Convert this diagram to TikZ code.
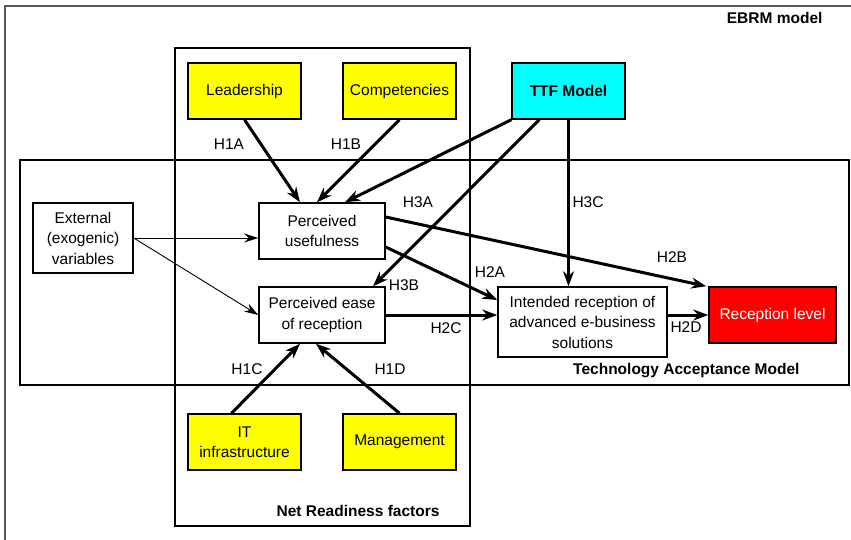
\documentclass[tikz,border=0pt]{standalone}
\usepackage{fontspec}
\setmainfont{Liberation Sans}
\usetikzlibrary{arrows.meta,calc}
\definecolor{ttfcyan}{RGB}{0,255,255}
\definecolor{boxyellow}{RGB}{255,255,0}
\definecolor{boxred}{RGB}{255,0,0}
\begin{document}
\begin{tikzpicture}[x=1pt,y=-1pt,
  txt/.style={font=\fontsize{15.5}{20.5}\selectfont},
  bld/.style={font=\fontsize{15.5}{20.5}\selectfont\bfseries},
  box/.style={draw,line width=1.5pt,align=center,inner sep=0pt,txt},
  yel/.style={box,fill=boxyellow},
  frame/.style={draw,line width=1.5pt},
  bigarrow/.style={line width=3pt,-{Stealth[length=15pt,width=11pt]}},
  thinarrow/.style={line width=0.9pt,-{Stealth[length=14pt,width=9pt]}},
  lbl/.style={txt,inner sep=0pt}
]
\useasboundingbox (0,0) rectangle (851,539);
% outer frame
\draw[line width=2pt,gray!70!black] (5,540) -- (5,6) -- (852,6);
\node[bld,anchor=east] (ebrm) at (826,18) {EBRM model};
% group frames
\draw[frame] (175,48) rectangle (470,526);
\draw[frame] (20,160) rectangle (849,385);
\node[bld,anchor=east] (nrf) at (443,511) {Net Readiness factors};
\node[bld,anchor=east] (tam) at (803,371) {Technology Acceptance Model};
% nodes
\node[yel,minimum width=113pt,minimum height=56pt] (lead) at (244.5,91) {Leadership};
\node[yel,minimum width=113pt,minimum height=56pt] (comp) at (399.5,91) {Competencies};
\node[box,fill=ttfcyan,minimum width=113pt,minimum height=56pt,font=\fontsize{15.5}{20.5}\selectfont\bfseries] (ttf) at (568.5,91) {TTF Model};
\node[box,minimum width=100pt,minimum height=70pt] (ext) at (83,238) {External\\(exogenic)\\variables};
\node[box,minimum width=126pt,minimum height=56pt] (pu) at (322,231) {Perceived\\usefulness};
\node[box,minimum width=126pt,minimum height=56pt] (pe) at (322,315) {Perceived ease\\of reception};
\node[box,minimum width=169pt,minimum height=70pt] (int) at (582.5,322) {Intended reception of\\advanced e-business\\solutions};
\node[box,fill=boxred,text=white,minimum width=127pt,minimum height=56pt] (rec) at (772.5,315) {Reception level};
\node[yel,minimum width=113pt,minimum height=56pt] (it) at (244.5,442) {IT\\infrastructure};
\node[yel,minimum width=113pt,minimum height=56pt] (man) at (399.5,442) {Management};
% connectors
\draw[bigarrow] (lead.south) -- ($(pu.north)+(-22,0)$);
\draw[bigarrow] (comp.south) -- ($(pu.north)+(-5,0)$);
\draw[bigarrow] (ttf.south west) -- ($(pu.north)+(23,0)$);
\draw[bigarrow] ($(ttf.south west)+(28,0)$) -- ($(pe.north)+(51,0)$);
\draw[bigarrow] (ttf.south) -- (ttf.south |- int.north);
\draw[bigarrow] ($(pu.east)+(0,-14)$) -- ($(rec.north west)+(-2,0)$);
\draw[bigarrow] ($(pu.east)+(0,16)$) -- ($(int.west)+(0,-22)$);
\draw[bigarrow] (pe.east) -- (pe.east -| int.west);
\draw[bigarrow] (int.east |- rec.west) -- (rec.west);
\draw[bigarrow] ($(it.north)+(-13,0)$) -- ($(pe.south)+(-22,0)$);
\draw[bigarrow] (man.north) -- ($(pe.south)+(-6,0)$);
\draw[thinarrow] (ext.east) -- (ext.east -| pu.west);
\draw[thinarrow] (ext.east) -- (pe.west);
% labels
\node[lbl] (l1a) at (229,144) {H1A};
\node[lbl] (l1b) at (346,144) {H1B};
\node[lbl] (l3a) at (418,202) {H3A};
\node[lbl] (l3c) at (588,202) {H3C};
\node[lbl] (l2b) at (672,257) {H2B};
\node[lbl] (l2a) at (490,272) {H2A};
\node[lbl] (l3b) at (404,285) {H3B};
\node[lbl] (l2c) at (446,328) {H2C};
\node[lbl] (l2d) at (686,327) {H2D};
\node[lbl] (l1c) at (247,369) {H1C};
\node[lbl] (l1d) at (390,369) {H1D};
\end{tikzpicture}
\end{document}
